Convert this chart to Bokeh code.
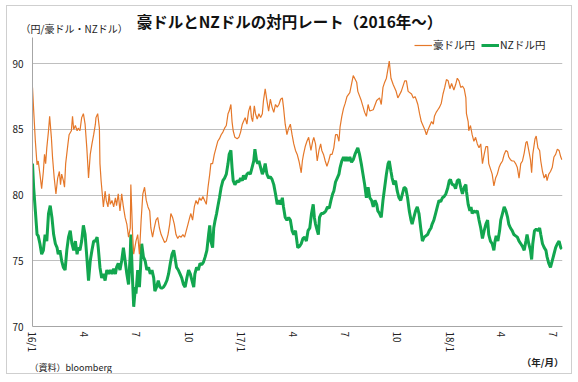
import pandas as pd
from bokeh.plotting import figure
from bokeh.layouts import column
from bokeh.models import (Range1d, FixedTicker, Legend, LegendItem,
                          ColumnDataSource)
from bokeh.core.properties import value
from bokeh.embed import file_html
from bokeh.resources import INLINE

# ---------------- data (days since 2016-01-01, yen per currency unit) -------------
aud_day = [0, 2, 5, 8, 10, 13, 16, 19, 21, 23, 25, 28, 30, 33, 35, 38, 41, 44, 47, 49,
           51, 54, 56, 58, 62, 64, 68, 70, 72, 75, 78, 80, 83, 86, 89, 92, 95, 97, 98, 101,
           104, 107, 110, 111, 114, 117, 118, 120, 122, 124, 127, 129, 132, 134, 136, 139, 142, 145, 147, 150,
           153, 156, 159, 162, 165, 168, 171, 172, 175, 177, 181, 184, 187, 190, 193, 196, 199, 202, 205, 207,
           210, 213, 216, 219, 222, 225, 228, 231, 234, 237, 240, 242, 245, 248, 251, 254, 257, 260, 263, 266,
           269, 272, 275, 277, 280, 283, 286, 289, 292, 295, 298, 301, 304, 307, 310, 312, 315, 318, 321, 324,
           327, 330, 333, 336, 339, 342, 344, 347, 349, 351, 354, 358, 361, 364, 367, 369, 372, 375, 378, 381,
           383, 385, 388, 390, 393, 396, 399, 402, 404, 407, 410, 413, 416, 419, 422, 425, 428, 431, 434, 437,
           439, 442, 445, 448, 451, 454, 457, 460, 463, 466, 467, 470, 472, 474, 477, 480, 483, 485, 487, 490,
           492, 495, 498, 501, 504, 506, 509, 512, 515, 518, 521, 524, 527, 530, 533, 536, 538, 541, 544, 547,
           550, 555, 561, 567, 569, 575, 581, 584, 587, 590, 596, 602, 607, 610, 613, 616, 619, 624, 627, 631,
           636, 639, 645, 651, 654, 657, 663, 666, 669, 671, 674, 677, 680, 683, 686, 689, 692, 695, 698, 701,
           703, 706, 709, 712, 715, 718, 721, 724, 727, 730, 733, 737, 740, 743, 746, 749, 752, 755, 758, 759,
           762, 763, 766, 769, 772, 775, 778, 781, 784, 787, 790, 793, 796, 798, 801, 804, 807, 810, 813, 816,
           819, 822, 825, 828, 831, 833, 836, 839, 842, 845, 848, 851, 854, 857, 860, 863, 865, 868, 871, 873,
           875, 879, 881, 884, 887, 889, 892, 895, 898, 900, 903, 906, 909, 912, 915, 918, 921, 924, 926]
aud_jpy = [88.2, 86.5, 84.1, 82.3, 82.6, 81.6, 80.5, 81.8, 83.1, 82.4, 83.6, 84.9, 86.0, 84.4, 82.9, 81.3, 80.1, 81.3, 81.8, 80.8,
           81.6, 81.1, 80.6, 82.4, 83.9, 84.6, 84.9, 86.0, 85.0, 85.3, 84.9, 85.1, 84.9, 85.9, 86.2, 85.4, 83.6, 82.1, 81.3, 83.1,
           83.9, 84.6, 85.4, 85.9, 86.2, 85.1, 82.4, 81.1, 80.1, 79.1, 80.3, 79.6, 79.1, 80.1, 79.3, 79.6, 79.1, 79.8, 79.2, 80.1,
           78.8, 80.1, 79.1, 78.3, 77.8, 76.8, 77.5, 80.8, 77.1, 75.5, 76.5, 77.0, 75.5, 78.1, 80.1, 80.6, 79.6, 79.1, 78.8, 77.5,
           76.8, 77.5, 78.1, 78.3, 77.5, 77.0, 76.7, 76.4, 76.5, 77.0, 77.8, 78.6, 78.3, 77.8, 77.0, 76.7, 76.9, 76.8, 77.0, 76.8,
           77.3, 77.8, 78.3, 78.6, 78.1, 79.1, 79.6, 79.3, 79.8, 79.6, 79.9, 79.6, 79.3, 80.6, 81.6, 82.4, 82.4, 83.1, 83.6, 84.1,
           84.3, 84.6, 84.8, 85.1, 85.3, 86.2, 86.4, 86.9, 85.6, 84.9, 84.4, 84.3, 84.4, 84.8, 85.4, 85.6, 85.9, 85.4, 86.4, 86.8,
           85.9, 85.6, 86.8, 86.2, 85.8, 86.2, 85.9, 86.2, 87.2, 88.1, 87.2, 86.4, 87.3, 86.7, 86.3, 86.9, 86.7, 86.9, 87.3, 87.4,
           86.7, 85.4, 84.6, 85.1, 85.4, 84.6, 83.9, 83.4, 83.1, 82.6, 82.4, 81.7, 82.6, 83.1, 83.7, 84.1, 84.4, 83.9, 83.4, 84.1,
           84.4, 83.9, 82.6, 83.4, 83.9, 83.4, 83.1, 82.6, 82.2, 82.6, 83.1, 83.1, 83.6, 84.6, 84.6, 84.1, 85.2, 86.0, 86.6, 87.0,
           87.5, 87.8, 89.1, 88.6, 87.9, 87.2, 86.3, 86.0, 86.9, 86.4, 86.5, 87.2, 87.4, 86.9, 88.2, 88.6, 88.9, 90.2, 88.9, 88.4,
           87.9, 87.4, 87.9, 88.7, 88.7, 87.9, 87.7, 87.4, 87.5, 87.3, 86.9, 86.2, 85.6, 85.3, 85.0, 84.6, 85.0, 85.3, 85.6, 85.4,
           86.0, 86.3, 86.5, 86.7, 87.0, 87.7, 88.2, 88.8, 88.7, 88.1, 88.5, 88.0, 88.4, 88.9, 88.7, 88.2, 88.3, 88.1, 87.4, 86.2,
           85.6, 84.9, 85.3, 84.6, 84.1, 84.4, 83.9, 83.6, 83.9, 82.4, 83.1, 83.7, 83.7, 82.4, 82.0, 81.6, 80.7, 81.3, 81.6, 82.1,
           82.4, 82.6, 83.1, 83.4, 83.3, 82.9, 82.7, 82.6, 82.6, 82.4, 82.1, 81.3, 82.4, 82.6, 83.2, 84.0, 84.1, 83.4, 82.7, 81.7,
           83.1, 84.3, 84.5, 83.6, 83.4, 82.6, 81.8, 81.3, 81.6, 81.1, 81.6, 81.8, 82.1, 82.9, 83.1, 83.5, 83.4, 82.9, 82.7]

nzd_day = [0, 2, 5, 8, 10, 13, 16, 19, 22, 25, 28, 31, 34, 37, 40, 43, 45, 48, 51, 54,
           57, 60, 63, 66, 69, 72, 75, 78, 80, 83, 86, 89, 92, 95, 98, 101, 104, 107, 110, 113,
           115, 118, 121, 124, 127, 130, 133, 136, 139, 142, 145, 147, 150, 153, 156, 159, 162, 165, 168, 171,
           172, 175, 177, 180, 181, 184, 187, 189, 191, 194, 197, 200, 203, 206, 209, 212, 214, 217, 220, 223,
           226, 229, 232, 235, 238, 241, 244, 247, 249, 252, 255, 258, 261, 264, 267, 270, 273, 276, 279, 282,
           284, 287, 290, 293, 296, 299, 302, 305, 308, 310, 312, 315, 317, 319, 322, 324, 327, 330, 333, 336,
           339, 342, 344, 347, 349, 351, 354, 358, 361, 364, 367, 369, 372, 375, 378, 381, 384, 387, 389, 392,
           394, 396, 399, 402, 404, 407, 410, 413, 416, 419, 422, 425, 428, 431, 434, 437, 439, 442, 445, 448,
           451, 454, 457, 460, 463, 464, 467, 470, 473, 476, 479, 482, 485, 488, 491, 493, 495, 498, 500, 502,
           505, 508, 511, 513, 516, 519, 522, 525, 527, 530, 533, 536, 538, 541, 544, 547, 549, 552, 555, 558,
           561, 564, 567, 569, 572, 575, 578, 581, 584, 587, 590, 593, 596, 599, 602, 604, 607, 610, 613, 616,
           619, 622, 624, 627, 629, 632, 635, 638, 641, 644, 647, 650, 653, 656, 659, 662, 664, 667, 670, 673,
           676, 679, 682, 685, 688, 691, 694, 697, 699, 702, 705, 708, 711, 714, 717, 720, 723, 726, 729, 731,
           734, 737, 740, 743, 746, 749, 752, 755, 758, 759, 762, 765, 767, 769, 772, 775, 778, 781, 784, 787,
           790, 793, 796, 798, 801, 804, 807, 809, 811, 814, 817, 819, 822, 825, 828, 831, 833, 836, 839, 842,
           845, 848, 851, 854, 857, 860, 863, 865, 868, 871, 873, 875, 878, 881, 884, 887, 889, 892, 895, 898,
           900, 903, 906, 909, 912, 915, 918, 921, 924, 926]
nzd_jpy = [82.4, 80.6, 78.8, 77.0, 76.9, 76.3, 75.5, 75.8, 77.0, 76.5, 78.6, 79.2, 78.3, 77.0, 76.3, 76.0, 75.5, 75.8, 75.0, 74.5,
           74.3, 75.8, 76.8, 77.3, 76.3, 75.8, 76.5, 75.5, 76.0, 75.8, 76.5, 77.7, 77.0, 75.3, 73.5, 75.0, 75.8, 76.5, 76.5, 76.8,
           76.0, 74.5, 73.7, 74.0, 73.5, 74.3, 74.0, 74.3, 74.0, 74.4, 74.0, 74.5, 74.8, 74.3, 75.0, 76.0, 75.0, 74.0, 73.2, 75.5,
           77.0, 73.5, 71.5, 73.0, 72.5, 74.3, 73.0, 74.5, 76.3, 75.3, 75.0, 74.3, 74.5, 74.0, 74.3, 73.7, 72.7, 73.0, 73.5, 73.0,
           72.9, 73.0, 73.2, 73.5, 74.0, 74.8, 75.5, 75.8, 75.3, 74.5, 74.3, 74.0, 73.7, 73.2, 73.0, 73.7, 74.3, 74.0, 73.5, 73.0,
           74.0, 74.5, 74.3, 74.8, 74.7, 74.9, 75.3, 75.8, 77.0, 77.7, 76.5, 76.0, 77.5, 78.0, 78.6, 79.1, 79.8, 80.6, 81.1, 81.3,
           81.6, 82.4, 83.1, 83.4, 82.1, 81.1, 80.8, 81.1, 81.0, 81.3, 81.1, 81.5, 81.2, 81.6, 81.7, 81.6, 82.1, 82.6, 83.5, 82.6,
           82.4, 82.6, 82.1, 81.6, 81.8, 82.4, 81.6, 81.3, 81.4, 81.2, 80.8, 80.1, 79.3, 79.6, 79.3, 79.8, 79.1, 78.3, 78.1, 78.3,
           78.1, 77.3, 77.0, 77.3, 76.3, 76.0, 76.1, 76.3, 76.7, 76.8, 76.5, 77.3, 77.5, 78.6, 79.3, 78.3, 77.8, 77.3, 77.0, 78.3,
           78.6, 78.6, 78.7, 78.8, 79.1, 79.0, 79.6, 80.1, 80.3, 81.0, 81.3, 81.6, 82.1, 82.6, 82.9, 82.6, 82.9, 82.6, 82.9, 82.5,
           82.7, 83.1, 83.4, 83.6, 83.1, 82.4, 81.6, 80.8, 79.8, 80.6, 79.8, 79.6, 79.1, 79.6, 79.3, 78.8, 78.6, 78.3, 79.6, 80.6,
           81.6, 82.4, 82.6, 81.8, 81.3, 80.8, 81.1, 80.3, 79.8, 79.6, 80.1, 80.6, 80.5, 79.8, 78.8, 78.1, 77.8, 78.3, 78.8, 79.1,
           78.6, 77.5, 76.5, 76.8, 76.9, 77.0, 77.3, 77.5, 77.8, 78.1, 78.6, 79.1, 79.6, 79.5, 79.8, 79.9, 80.1, 80.5, 81.1, 81.2,
           80.8, 80.8, 80.5, 81.1, 81.2, 80.6, 80.1, 80.6, 80.8, 80.3, 79.3, 78.8, 79.1, 78.6, 78.8, 78.7, 78.8, 78.1, 77.5, 76.7,
           77.3, 77.8, 78.1, 77.0, 76.5, 76.3, 75.8, 76.5, 76.9, 76.5, 77.3, 78.1, 78.6, 79.1, 78.8, 78.3, 77.8, 77.5, 77.3, 77.0,
           76.9, 76.8, 76.5, 76.3, 76.1, 75.8, 76.5, 77.0, 76.3, 75.8, 75.1, 76.3, 77.3, 77.4, 77.3, 77.5, 77.0, 76.3, 76.0, 75.8,
           75.3, 74.8, 74.5, 75.0, 75.5, 76.0, 76.3, 76.5, 76.0, 75.9]

tick_dates = ["2016-01-01", "2016-04-01", "2016-07-01", "2016-10-01", "2017-01-01", "2017-04-01",
              "2017-07-01", "2017-10-01", "2018-01-01", "2018-04-01", "2018-07-01"]
tick_labels = ["16/1", "4", "7", "10", "17/1", "4", "7", "10", "18/1", "4", "7"]
y_ticks = [70, 75, 80, 85, 90]

series_names = ["豪ドル円", "NZドル円"]
title_text = "豪ドルとNZドルの対円レート（2016年～）"
unit_text = "（円/豪ドル・NZドル）"
source_text = "（資料）bloomberg"
xunit_text = "（年/月）"

# ---------------- styling -------------
FONT = "Noto Sans CJK JP"
ORANGE = "#E5782A"
GREEN = "#12A64F"
GRID = "#BFBFBF"
TXT = "#222222"
W = 564

start = pd.Timestamp("2016-01-01")


def to_dates(days):
    return [start + pd.Timedelta(days=d) for d in days]


def no_frame_align(f):
    if "frame_align" in f.properties():
        f.frame_align = False


def text_strip(height):
    """A bare figure whose frame is the whole strip; x/y ranges are in pixels."""
    f = figure(width=W, height=height, output_backend="svg", toolbar_location=None,
               x_range=Range1d(0, W), y_range=Range1d(0, height),
               x_axis_location=None, y_axis_location=None,
               min_border=0, min_border_left=0, min_border_right=0,
               min_border_top=0, min_border_bottom=0)
    f.outline_line_color = None
    f.xgrid.visible = False
    f.ygrid.visible = False
    f.border_fill_color = "white"
    f.background_fill_color = "white"
    no_frame_align(f)
    return f


def put_text(f, x, y, txt, align, size, style="normal", color=TXT):
    f.text(x=[x], y=[y], text=[txt], text_align=align, text_baseline="middle",
           text_font=value(FONT), text_font_size=size, text_font_style=style,
           text_color=color)


# ---------------- header -------------
header = text_strip(31)
put_text(header, 282, 17, title_text, "center", "15.5px", "bold", "#111111")
put_text(header, 13, 9, unit_text, "left", "10px")

# ---------------- main chart -------------
src_aud = ColumnDataSource(dict(x=to_dates(aud_day), y=aud_jpy))
src_nzd = ColumnDataSource(dict(x=to_dates(nzd_day), y=nzd_jpy))

p = figure(width=W, height=318, x_axis_type="datetime", output_backend="svg",
           toolbar_location=None,
           x_range=Range1d(start, start + pd.Timedelta(days=927)),
           y_range=Range1d(70, 92),
           min_border_left=25, min_border_right=9, min_border_top=0, min_border_bottom=28)
p.outline_line_color = None
p.background_fill_color = "white"
p.border_fill_color = "white"
no_frame_align(p)

r_nzd = p.line("x", "y", source=src_nzd, color=GREEN, line_width=3.0)
r_aud = p.line("x", "y", source=src_aud, color=ORANGE, line_width=1.2)

tick_ms = [pd.Timestamp(d).value // 10**6 for d in tick_dates]
p.xaxis.ticker = FixedTicker(ticks=tick_ms)
p.xaxis.major_label_overrides = {t: l for t, l in zip(tick_ms, tick_labels)}
p.xaxis.major_label_orientation = "vertical"
p.yaxis.ticker = FixedTicker(ticks=y_ticks)
for ax in (p.xaxis, p.yaxis):
    ax.axis_line_color = "#A6A6A6"
    ax.axis_line_width = 1
    ax.major_tick_line_color = None
    ax.minor_tick_line_color = None
    ax.major_tick_out = 0
    ax.major_tick_in = 0
    ax.major_label_text_font = FONT
    ax.major_label_text_font_size = "10px"
    ax.major_label_text_color = TXT
p.yaxis.major_label_standoff = 9
p.xaxis.major_label_standoff = 5

p.xgrid.grid_line_color = None
p.ygrid.grid_line_color = GRID
p.ygrid.grid_line_width = 1

# legend inside the frame, top right ((x, y) = legend bottom-left, px from frame bottom-left)
legend = Legend(items=[LegendItem(label=series_names[0], renderers=[r_aud]),
                       LegendItem(label=series_names[1], renderers=[r_nzd])],
                orientation="horizontal", location=(382, 274),
                border_line_color=None, background_fill_alpha=0,
                label_text_font=FONT, label_text_font_size="10.5px", label_text_color=TXT,
                glyph_width=18, glyph_height=12, label_height=12, padding=0,
                spacing=6, label_standoff=1, margin=0)
p.add_layout(legend)

# ---------------- footer -------------
footer = text_strip(18)
put_text(footer, 556, 12, xunit_text, "right", "9.5px", "bold")
put_text(footer, 22, 6, source_text, "left", "9px")

page = column(header, p, footer, spacing=0)
page.styles = {"border": "1px solid #CFCFCF", "margin-left": "6px", "margin-top": "5px"}

open("out.html", "w").write(file_html(page, INLINE))
